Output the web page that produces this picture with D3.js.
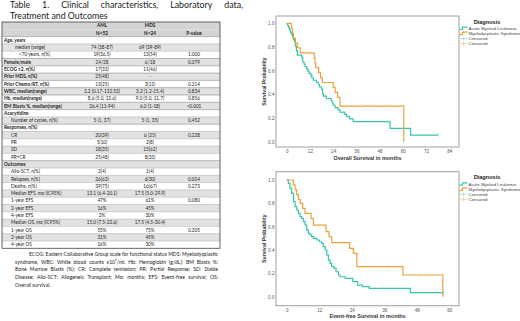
<!DOCTYPE html>
<html>
<head>
<meta charset="utf-8">
<script src="https://cdn.jsdelivr.net/npm/d3@7"></script>
<style>
body { margin: 0; background: #fff; }
svg { display: block; }
</style>
</head>
<body>
<svg id="chart"></svg>
<script>
let w = 520;
let h = 321;

// ---- table data ----
const colHeads = ['AML', 'MDS'];
const colNs = ['N=52', 'N=24', 'P-value'];
const rowLabels = ['Age, years', 'median (range)', '<70 years, n(%)', 'Female/male', 'ECOG \u22652, n(%)',
    'Prior MDS, n(%)', 'Prior Chemo/RT, n(%)', 'WBC, median(range)', 'Hb, median(range)',
    'BM Blasts %, median(range)', 'Azacytidine', 'Number of cycles, n(%)', 'Responses, n(%)',
    'CR', 'PR', 'SD', 'PR+CR', 'Outcomes', 'Allo-SCT, n(%)', 'Relapses, n(%)', 'Deaths, n(%)',
    'Median EFS, mo (IC95%)', '1-year EFS', '2-year EFS', '4-year EFS',
    'Median OS, mo (IC95%)', '1-year OS', '2-year OS', '4-year OS'];
const boldRows = ['Age, years', 'Female/male', 'ECOG \u22652, n(%)', 'Prior MDS, n(%)', 'Prior Chemo/RT, n(%)',
    'WBC, median(range)', 'Hb, median(range)', 'BM Blasts %, median(range)', 'Azacytidine',
    'Responses, n(%)', 'Outcomes'];
const amlValues = ['', '74 (38-87)', '19(36.5)', '24/28', '17(33)', '25(48)', '13(25)', '3.2 (0.17-132.53)',
    '8.6 (5.0, 13.6)', '36.4 (11-94)', '', '5 (1, 37)', '', '20(39)', '5(10)', '18(35)', '25(48)', '',
    '2(4)', '26(63)', '39(75)', '13.1 (6.4-20.1)', '47%', '16%', '3%', '15.0 (7.5-22.6)', '55%', '31%', '16%'];
const mdsValues = ['', '69 (39-89)', '13(54)', '6/18', '11(46)', '-', '3(12)', '3.2 (1.2-15.4)',
    '9.0 (5.0, 11.7)', '6.0 (1-18)', '', '5 (1, 35)', '', '6 (25)', '2(8)', '15(62)', '8(33)', '',
    '1(4)', '6(30)', '16(67)', '17.5 (5.0-29.9)', '61%', '45%', '30%', '17.5 (4.5-30.4)', '75%', '45%', '30%'];
const pValues = ['', '', '1.000', '0.079', '', '', '0.214', '0.834', '0.856', '<0.001', '', '0.452', '',
    '0.228', '', '', '', '', '', '0.014', '0.273', '', '0.080', '', '', '', '0.205', '', ''];

const titleLines = ['Table 1. Clinical characteristics, Laboratory data,', 'Treatment and Outcomes'];
const footLines = [
    'ECOG: Eastern Collaborative Group scale for functional status MDS: Myelodysplastic',
    'syndrome, WBC: White blood counts x10\u2079/ml. Hb: Hemoglobin (g/dL); BM Blasts %:',
    'Bone Marrow Blasts (%); CR: Complete remission; PR: Partial Response; SD: Stable',
    'Disease; Allo-SCT: Allogeneic Transplant; Mo: months; EFS: Event-free survival; OS:',
    'Overall survival.'];

// ---- survival curves (months, survival probability) ----
const osAmlTime = [0, 0.5, 1, 1.5, 2, 2.5, 3, 3.5, 4, 4.5, 5, 5.5, 7.8, 8.3, 9, 9.5, 10.3, 11, 11.5, 12.5, 13,
    13.8, 15.5, 16.4, 17, 18, 18.5, 19, 20.5, 23, 23.5, 24, 25, 26.5, 27.5, 30, 31, 32.5, 34.4, 53.4, 64, 78.3];
const osAmlSurv = [1, .981, .962, .942, .923, .904, .885, .865, .846, .808, .769, .731, .712, .673, .654, .635,
    .615, .596, .577, .558, .538, .519, .5, .481, .462, .442, .404, .385, .365, .346, .327, .308, .288, .269,
    .25, .231, .212, .192, .169, .113, .056, .056];
const osAmlCens = [31.8, 52.4, 78.3];

const osMdsTime = [0, 2.4, 3, 3.5, 4.5, 5.5, 7, 14.2, 14.6, 15, 16.5, 17.5, 18.4, 24, 25, 26.3, 27.5, 60.5];
const osMdsSurv = [1, .958, .917, .875, .833, .792, .75, .708, .667, .625, .583, .542, .5, .458, .417, .375, .30, 0];
const osMdsCens = [10, 38.7, 44.7, 51.3, 60.5];

const efsAmlTime = [0, 0.6, 1.2, 1.8, 2.5, 3.1, 3.7, 4.3, 4.9, 5.5, 6.2, 6.8, 7.4, 8.0, 8.6, 9.2, 9.9, 11.1,
    12.1, 12.9, 13.5, 14.2, 14.8, 15.4, 16.0, 16.6, 17.5, 18.2, 19.1, 19.7, 21.6, 24.4, 26.2, 28, 30.5, 45.6, 57.9];
const efsAmlSurv = [1, .971, .929, .886, .814, .771, .743, .714, .686, .671, .643, .614, .571, .543, .529, .514,
    .5, .486, .471, .457, .429, .4, .357, .314, .286, .257, .243, .214, .186, .171, .157, .129, .1, .086, .071,
    .035, .035];
const efsAmlCens = [57.9];

const efsMdsTime = [0, 2.46, 3.08, 3.69, 4.31, 4.93, 5.9, 6.77, 9, 9.85, 14.5, 15.6, 16.6, 23.2, 24.6, 25.9, 42.9, 57.6];
const efsMdsSurv = [1, .958, .917, .875, .833, .8, .757, .714, .671, .614, .557, .514, .463, .414, .371, .257, .186, 0];
const efsMdsCens = [37, 49, 57.6];

const legendLabels = ['Acute Myeloid Leukemia', 'Myelodysplastic Syndrome', 'Censored', 'Censored'];

const teal = '#38c3ae';
const orange = '#eba23a';
const tealLight = '#a6e2d8';
const orangeLight = '#f3d09f';

const chart = d3.select('#chart')
    .attr('width', w)
    .attr('height', h)
    .style('font-family', 'Lato, sans-serif');

chart.append('rect').attr('width', w).attr('height', h).attr('fill', '#fff');

// spread words between x0 and x1, shrink the font if the line does not fit
function justify(g, line, x0, x1, y, size, last) {
    const words = line.split(' ');
    const nodes = words.map(wd => g.append('text')
        .attr('y', y)
        .attr('font-size', size)
        .attr('fill', '#222')
        .text(wd));
    let widths = nodes.map(n => n.node().getComputedTextLength());
    let space = size * 0.25;
    let total = d3.sum(widths);
    const need = total + space * (words.length - 1);
    if (need > x1 - x0) {
        const k = (x1 - x0) / need;
        nodes.forEach(n => n.attr('font-size', size * k));
        widths = widths.map(v => v * k);
        total *= k;
        space *= k;
    }
    const gap = last ? space : (x1 - x0 - total) / Math.max(1, words.length - 1);
    let x = x0;
    nodes.forEach((n, i) => {
        n.attr('x', x);
        x += widths[i] + gap;
    });
}

// ---- title ----
const titleG = chart.append('g');
justify(titleG, titleLines[0], 10, 243, 8, 8.8, false);
justify(titleG, titleLines[1], 10, 243, 18.5, 8.8, true);

// ---- table ----
const tx0 = 2, tx1 = 220, ty0 = 22, rowH = 7.3;
const colX = [102, 150, 194];
const table = chart.append('g').attr('font-size', 4.7).attr('fill', '#222');

// header rows
[0, 1].forEach(i => {
    table.append('rect')
        .attr('x', tx0).attr('y', ty0 + i * rowH)
        .attr('width', tx1 - tx0).attr('height', rowH)
        .attr('fill', '#d4d4d4');
});
colHeads.forEach((t, i) => {
    table.append('text').attr('x', colX[i]).attr('y', ty0 + rowH * 0.5 + 1.6)
        .attr('text-anchor', 'middle').attr('font-weight', 'bold').text(t);
});
colNs.forEach((t, i) => {
    table.append('text').attr('x', colX[i]).attr('y', ty0 + rowH * 1.5 + 1.6)
        .attr('text-anchor', 'middle').attr('font-weight', 'bold').text(t);
});

const body = table.selectAll('g.row')
    .data(rowLabels)
    .enter()
    .append('g')
    .attr('class', 'row')
    .attr('transform', (d, i) => `translate(0,${ty0 + (i + 2) * rowH})`);

body.append('rect')
    .attr('x', tx0).attr('width', tx1 - tx0).attr('height', rowH)
    .attr('fill', (d, i) => i % 2 ? '#e2e2e2' : '#fff');

body.append('line')
    .attr('x1', tx0).attr('x2', tx1)
    .attr('stroke', (d) => boldRows.includes(d) ? '#777' : '#a8a8a8')
    .attr('stroke-width', 0.5);

body.append('text')
    .attr('x', d => boldRows.includes(d) ? 4 : (d === 'median (range)' ? 15 : (d.startsWith('<70') ? 19 : 11)))
    .attr('y', rowH * 0.5 + 1.6)
    .attr('font-weight', d => boldRows.includes(d) ? 'bold' : 'normal')
    .text(d => d);

[amlValues, mdsValues, pValues].forEach((vals, c) => {
    body.append('text')
        .attr('x', colX[c])
        .attr('y', rowH * 0.5 + 1.6)
        .attr('text-anchor', 'middle')
        .text((d, i) => vals[i]);
});

table.append('rect')
    .attr('x', tx0).attr('y', ty0)
    .attr('width', tx1 - tx0).attr('height', rowH * (rowLabels.length + 2))
    .attr('fill', 'none').attr('stroke', '#555').attr('stroke-width', 0.9);

// ---- footnote ----
const foot = chart.append('g');
const footY0 = ty0 + rowH * (rowLabels.length + 2) + 7.5;
footLines.forEach((line, i) => {
    justify(foot, line, i === 0 ? 29 : 15, 218, footY0 + i * 7.7, 5.1, i === footLines.length - 1);
});

// ---- KM plots ----
function kmPlot(cfg) {
    const g = chart.append('g').style('font-family', '"Liberation Sans", Arial, sans-serif');
    const x = d3.scaleLinear().domain([0, cfg.xMax]).range([286.7, 449.3]);
    const y = d3.scaleLinear().domain([0, 1]).range([cfg.y0, cfg.y1]);

    g.append('rect')
        .attr('x', 276).attr('y', cfg.top)
        .attr('width', 459 - 276).attr('height', cfg.bottom - cfg.top)
        .attr('fill', 'none').attr('stroke', '#a0a0a0').attr('stroke-width', 1);

    const yAxis = g.append('g')
        .attr('transform', 'translate(276,0)')
        .call(d3.axisLeft(y).tickValues([0, .2, .4, .6, .8, 1]).tickFormat(d3.format('.1f')).tickSize(0).tickPadding(1.5));
    const xAxis = g.append('g')
        .attr('transform', `translate(0,${cfg.bottom})`)
        .call(d3.axisBottom(x).tickValues(d3.range(0, cfg.xMax + 1, 12)).tickSize(0).tickPadding(3));
    [xAxis, yAxis].forEach(a => {
        a.select('.domain').remove();
        a.selectAll('text').attr('font-size', 4.6).attr('fill', '#555')
            .style('font-family', '"Liberation Sans", Arial, sans-serif');
    });

    g.append('text')
        .attr('x', 367.5).attr('y', cfg.bottom + 12.5)
        .attr('text-anchor', 'middle').attr('font-size', 5.4).attr('font-weight', 'bold').attr('fill', '#333')
        .text(cfg.xTitle);
    g.append('text')
        .attr('transform', `translate(265.5,${(cfg.top + cfg.bottom) / 2}) rotate(-90)`)
        .attr('text-anchor', 'middle').attr('font-size', 5.2).attr('font-weight', 'bold').attr('fill', '#333')
        .text('Survival Probability');

    const line = d3.line()
        .x(d => x(d[0]))
        .y(d => y(d[1]))
        .curve(d3.curveStepAfter);

    cfg.series.forEach(s => {
        const pts = s.time.map((t, i) => [t, s.surv[i]]);
        g.append('path')
            .datum(pts)
            .attr('d', line)
            .attr('fill', 'none')
            .attr('stroke', s.color)
            .attr('stroke-width', 1.2);
        // censor ticks
        const stepAt = t => {
            let v = s.surv[0];
            s.time.forEach((tt, i) => { if (tt < t) v = s.surv[i]; });
            return v;
        };
        g.selectAll(null)
            .data(s.cens)
            .enter()
            .append('line')
            .attr('x1', d => x(d)).attr('x2', d => x(d))
            .attr('y1', d => y(stepAt(d)) - 1.8).attr('y2', d => y(stepAt(d)) + 1.8)
            .attr('stroke', s.light).attr('stroke-width', 0.9);
    });

    // legend
    const lg = g.append('g');
    lg.append('text')
        .attr('x', 487).attr('y', cfg.top + 7.5)
        .attr('text-anchor', 'middle').attr('font-size', 5.6).attr('font-weight', 'bold').attr('fill', '#222')
        .text('Diagnosis');
    const lcol = [teal, orange, tealLight, orangeLight];
    legendLabels.forEach((lab, i) => {
        const ly = cfg.top + 12.3 + i * 5.1;
        if (i < 2) {
            lg.append('path')
                .attr('d', `M459.5,${ly + 1.2}H462.5V${ly - 1.2}H467.5`)
                .attr('fill', 'none').attr('stroke', lcol[i]).attr('stroke-width', 1.2);
        } else {
            lg.append('path')
                .attr('d', `M459.5,${ly}H467.5M463.5,${ly - 1.8}V${ly + 1.8}`)
                .attr('fill', 'none').attr('stroke', lcol[i]).attr('stroke-width', 0.9);
        }
        lg.append('text')
            .attr('x', 468.5).attr('y', ly + 1.5)
            .attr('font-size', 4.4).attr('fill', '#444')
            .text(lab);
    });
}

kmPlot({
    top: 16, bottom: 147, y0: 141.7, y1: 23.3, xMax: 84,
    xTitle: 'Overall Survival in months',
    series: [
        { time: osAmlTime, surv: osAmlSurv, cens: osAmlCens, color: teal, light: tealLight },
        { time: osMdsTime, surv: osMdsSurv, cens: osMdsCens, color: orange, light: orangeLight }
    ]
});

kmPlot({
    top: 171.7, bottom: 305.7, y0: 296.7, y1: 180, xMax: 60,
    xTitle: 'Event-free Survival in months',
    series: [
        { time: efsAmlTime, surv: efsAmlSurv, cens: efsAmlCens, color: teal, light: tealLight },
        { time: efsMdsTime, surv: efsMdsSurv, cens: efsMdsCens, color: orange, light: orangeLight }
    ]
});
</script>
</body>
</html>
